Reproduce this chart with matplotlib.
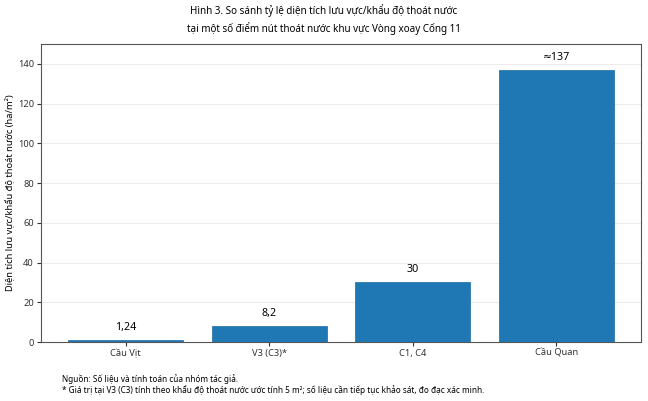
import matplotlib
matplotlib.use("Agg")
import matplotlib.pyplot as plt

categories = ["Cầu Vịt", "V3 (C3)*", "C1, C4", "Cầu Quan"]
values = [1.24, 8.2, 30, 137]
labels = ["1,24", "8,2", "30", "≈137"]
yticks = [0, 20, 40, 60, 80, 100, 120, 140]

plt.rcParams['font.family'] = ['Noto Sans', 'DejaVu Sans']

fig = plt.figure(figsize=(6.48, 4.01), dpi=100)
ax = fig.add_axes([41/648, 1-342/401, 600/648, 298/401])

bars = ax.bar(range(len(categories)), values, width=0.8, color="#1f77b4",
              edgecolor="#1c6aa3", linewidth=0.5, zorder=3)
for i, (v, lab) in enumerate(zip(values, labels)):
    ax.annotate(lab, (i, v), xytext=(0, 5), textcoords="offset points",
                ha="center", va="bottom", fontsize=7.7)

ax.set_xticks(range(len(categories)))
ax.set_xticklabels(categories, fontsize=6.7)
ax.set_yticks(yticks)
ax.tick_params(axis='y', labelsize=6.7, length=3, colors="#333333", pad=2)
ax.tick_params(axis='x', length=3, colors="#333333", pad=2)
ax.set_ylim(0, 150)
ax.set_ylabel("Diện tích lưu vực/khẩu độ thoát nước (ha/m²)", fontsize=6.7)
ax.yaxis.set_label_coords(-0.043, 0.5)
ax.yaxis.grid(True, color="#ebebeb", linewidth=0.7, zorder=0)
ax.set_axisbelow(True)
for s in ax.spines.values():
    s.set_color("#555555")
    s.set_linewidth(0.8)

fig.text(0.5, 1-19.5/401, "Hình 3. So sánh tỷ lệ diện tích lưu vực/khẩu độ thoát nước\ntại một số điểm nút thoát nước khu vực Vòng xoay Cống 11",
         ha="center", va="center", fontsize=7.1, linespacing=1.6)
fig.text(62/648, 1-379/401, "Nguồn: Số liệu và tính toán của nhóm tác giả.", fontsize=5.9, va="center")
fig.text(62/648, 1-390/401, "* Giá trị tại V3 (C3) tính theo khẩu độ thoát nước ước tính 5 m²; số liệu cần tiếp tục khảo sát, đo đạc xác minh.",
         fontsize=5.9, va="center")

fig.savefig("out.png", dpi=100)
